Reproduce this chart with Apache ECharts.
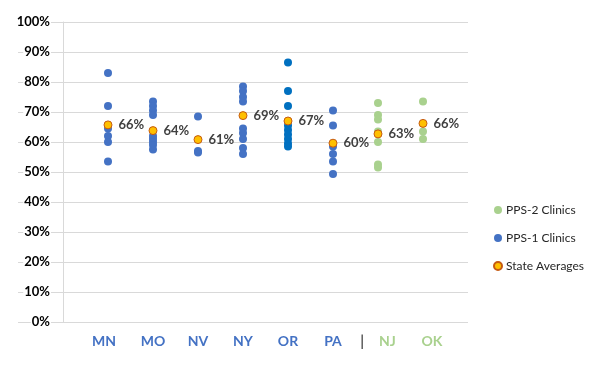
<!DOCTYPE html>
<html><head><meta charset="utf-8">
<script src="https://cdn.jsdelivr.net/npm/echarts@6/dist/echarts.min.js"></script>
<style>html,body{margin:0;padding:0;background:#fff}#c{width:613px;height:367px}</style>
</head><body><div id="c"></div>
<script>
const states = ['MN','MO','NV','NY','OR','PA','NJ','OK'];
const pps1 = {
  MN: [83, 72, 64.5, 62, 60, 53.5],
  MO: [73.5, 72, 70.5, 69, 62, 61, 60, 59, 57.5],
  NV: [68.5, 57, 56.5],
  NY: [78.5, 77, 75, 73.5, 64.5, 63, 61, 58, 56],
  OR: [86.5, 77, 72, 65.5, 64, 62.5, 61, 59.5, 58.5],
  PA: [70.5, 65.5, 58.5, 56, 53.5, 49.3]
};
const pps2 = {
  NJ: [73, 69, 67.5, 63.5, 60, 52.5, 51.5],
  OK: [73.5, 63.5, 61]
};
const averages = [65.7, 63.8, 60.8, 68.8, 67, 59.6, 62.7, 66.2];
const avgLabels = ['66%','64%','61%','69%','67%','60%','63%','66%'];
const yTicks = [0,10,20,30,40,50,60,70,80,90,100];

const blue = '#4472C4', blueOR = '#0070C0', green = '#A9D18E';
const pps1Data = [], pps2Data = [], avgData = [];
states.forEach((s, i) => {
  (pps1[s] || []).forEach(v => {
    const it = { value: [i + 1, v] };
    if (s === 'OR') it.itemStyle = { color: blueOR };
    pps1Data.push(it);
  });
  (pps2[s] || []).forEach(v => pps2Data.push([i + 1, v]));
  avgData.push({ value: [i + 1, averages[i]], labelText: avgLabels[i] });
});

const xl = { fontSize: 14, fontWeight: 'bold', fontFamily: 'Lato' };
const chart = echarts.init(document.getElementById('c'), null, { renderer: 'canvas' });
chart.setOption({
  animation: false,
  textStyle: { fontFamily: 'Lato, "Open Sans", sans-serif' },
  grid: { left: 63, right: 145, top: 22, bottom: 45 },
  xAxis: {
    type: 'value', min: 0, max: 9, interval: 1,
    axisLine: { show: false }, axisTick: { show: false }, splitLine: { show: false },
    axisLabel: {
      margin: 12, showMinLabel: true, showMaxLabel: true,
      formatter: v => {
        const s = states[v - 1];
        if (!s) return '';
        if (s === 'NJ') return '{sep||}{g|NJ}';
        if (s === 'OK') return '{gok|OK}';
        if (s === 'MN') return '{mn|MN}';
        return '{b|' + s + '}';
      },
      rich: {
        b: Object.assign({ color: blue }, xl),
        mn: Object.assign({ color: blue, padding: [0, 8, 0, 0] }, xl),
        sep: { color: '#595959', fontSize: 15, fontWeight: 'bold', fontFamily: 'Lato', padding: [0, 15, 0, 0] },
        g: Object.assign({ color: green }, xl),
        gok: Object.assign({ color: green, padding: [0, 0, 0, 18] }, xl)
      }
    }
  },
  yAxis: {
    type: 'value', min: 0, max: 100, interval: 10,
    axisLine: { show: true, lineStyle: { color: '#D9D9D9', width: 1 } },
    axisTick: { show: true, length: 45, lineStyle: { color: '#D9D9D9', width: 1 } },
    splitLine: { lineStyle: { color: '#D9D9D9', width: 1 } },
    axisLabel: {
      margin: 12, color: '#000', fontWeight: 'bold', fontSize: 13, fontFamily: 'Lato',
      backgroundColor: '#fff', padding: [0, 1, 0, 1],
      formatter: v => yTicks.includes(v) ? v + '%' : ''
    }
  },
  legend: {
    orient: 'vertical', left: 488, top: 199, itemGap: 16,
    itemWidth: 8, itemHeight: 8, icon: 'circle',
    textStyle: { fontSize: 12, color: '#262626', fontFamily: 'Lato', padding: [0, 0, 0, -1] },
    data: ['PPS-2 Clinics', 'PPS-1 Clinics', 'State Averages']
  },
  series: [
    { name: 'PPS-1 Clinics', type: 'scatter', symbolSize: 8, data: pps1Data,
      itemStyle: { color: blue, opacity: 1 }, z: 2 },
    { name: 'PPS-2 Clinics', type: 'scatter', symbolSize: 8, data: pps2Data,
      itemStyle: { color: green, opacity: 1 }, z: 2 },
    { name: 'State Averages', type: 'scatter', symbolSize: 8, data: avgData,
      itemStyle: { color: '#FFC000', borderColor: '#C55A11', borderWidth: 1, opacity: 1 }, z: 3,
      label: { show: true, position: 'right', distance: 6, fontSize: 13, fontWeight: 'bold',
        color: '#404040', fontFamily: 'Lato', formatter: p => p.data.labelText } }
  ]
});
</script></body></html>
